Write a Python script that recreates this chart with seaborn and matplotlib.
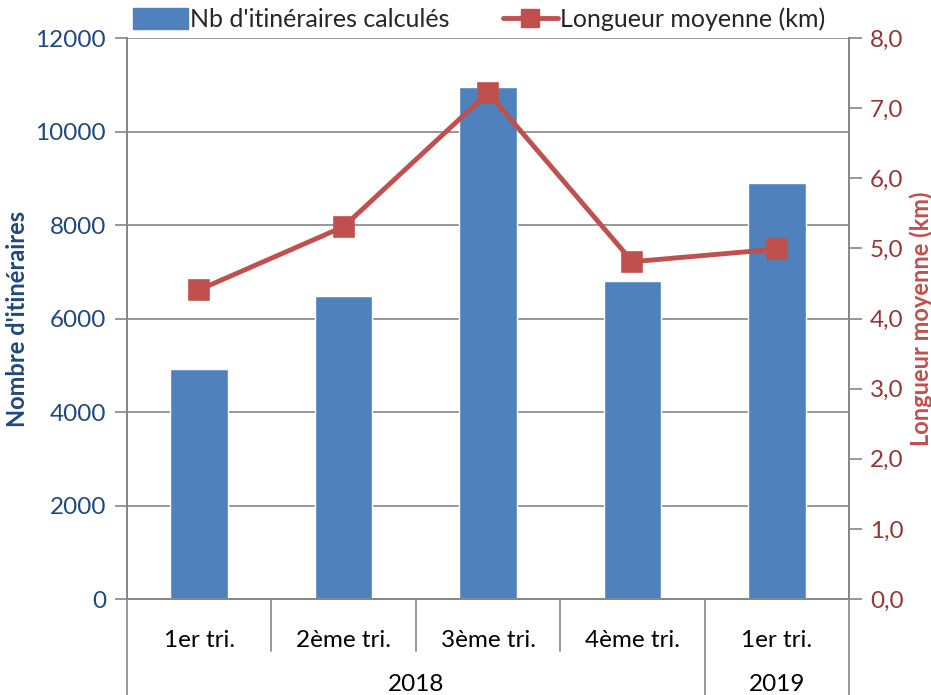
import pandas as pd
import matplotlib
matplotlib.use("Agg")
import matplotlib.pyplot as plt
import seaborn as sns
from matplotlib.lines import Line2D
from matplotlib.patches import Patch

# data
keys = ["2018-T1", "2018-T2", "2018-T3", "2018-T4", "2019-T1"]
quarters = ["1er tri.", "2ème tri.", "3ème tri.", "4ème tri.", "1er tri."]
years = ["2018", "2018", "2018", "2018", "2019"]
nb_itineraires = [4920, 6480, 10950, 6800, 8900]
longueur_km = [4.41, 5.31, 7.22, 4.81, 4.99]

BLUE = "#4F81BD"
RED = "#C0504D"
DARK_BLUE = "#1F497D"
DARK_RED = "#953735"
GRAY = "#868686"

sns.set_style("white")
plt.rcParams["font.family"] = ["Lato", "DejaVu Sans"]

df = pd.DataFrame({"key": keys, "quarter": quarters, "year": years,
                   "nb": nb_itineraires, "km": longueur_km})

fig = plt.figure(figsize=(9.31, 6.95), dpi=100)
ax = fig.add_axes([0.1364, 0.1381, 0.7756, 0.8072])

sns.barplot(data=df, x="key", y="nb", order=keys, color=BLUE,
            width=0.4, saturation=1, ax=ax)
ax.set_ylim(0, 12000)
ax.set_yticks(range(0, 12001, 2000))
ax.yaxis.grid(True, color=GRAY, linewidth=1.2)
ax.set_axisbelow(True)
ax.set_xlim(-0.5, len(keys) - 0.5)

ax2 = ax.twinx()
sns.pointplot(data=df, x="key", y="km", order=keys, color=RED,
              markers="s", markersize=13, linewidth=3.5, errorbar=None, ax=ax2)
ax2.set_ylim(0, 8)
ax2.set_yticks([i for i in range(9)])
ax2.set_yticklabels([f"{v:.1f}".replace(".", ",") for v in range(9)])
ax2.set_xlim(-0.5, len(keys) - 0.5)

for a in (ax, ax2):
    for s in a.spines.values():
        s.set_color(GRAY)
        s.set_linewidth(1.2)
    a.spines["top"].set_visible(False)

ax.tick_params(axis="y", colors=GRAY, labelcolor=DARK_BLUE, labelsize=17.5,
               length=9, width=1.2, direction="out", pad=6)
ax2.tick_params(axis="y", colors=GRAY, labelcolor=DARK_RED, labelsize=17.5,
                length=9, width=1.2, direction="out", pad=6)

ax.set_ylabel("Nombre d'itinéraires", color=DARK_BLUE, fontsize=17,
              fontweight="bold", labelpad=5)
ax2.set_ylabel("Longueur moyenne (km)", color=RED, fontsize=17,
               fontweight="bold", labelpad=4)
ax.set_xlabel("")
ax2.set_xlabel("")

# two-level category axis
ax.set_xticks(range(len(keys)))
ax.set_xticklabels(quarters)
ax.tick_params(axis="x", length=0, labelsize=17.5, pad=22, labelcolor="black")
ax2.tick_params(axis="x", length=0, labelbottom=False)

trans = ax.get_xaxis_transform()
for i in range(1, len(keys)):
    boundary = i - 0.5
    long_line = years[i] != years[i - 1]
    ax.plot([boundary, boundary], [0, -0.175 if long_line else -0.092],
            transform=trans, color=GRAY, linewidth=1.2, clip_on=False)
for edge in (-0.5, len(keys) - 0.5):
    ax.plot([edge, edge], [0, -0.175], transform=trans, color=GRAY,
            linewidth=1.2, clip_on=False)

for yr in sorted(set(years)):
    idx = [i for i, y in enumerate(years) if y == yr]
    center = (idx[0] + idx[-1]) / 2
    ax.text(center, -0.153, yr, transform=trans, ha="center", va="center",
            fontsize=17.5, color="black")

handles = [Patch(facecolor=BLUE, edgecolor=BLUE),
           Line2D([0], [0], color=RED, linewidth=3.5, marker="s", markersize=13)]
fig.legend(handles, ["Nb d'itinéraires calculés", "Longueur moyenne (km)"],
           loc="upper left", bbox_to_anchor=(128 / 931, 0.996), ncol=2,
           frameon=False, fontsize=18, handlelength=2.2, handletextpad=0.1,
           columnspacing=2.1, handleheight=0.9, borderpad=0.2,
           borderaxespad=0)

fig.savefig("out.png", dpi=100)
